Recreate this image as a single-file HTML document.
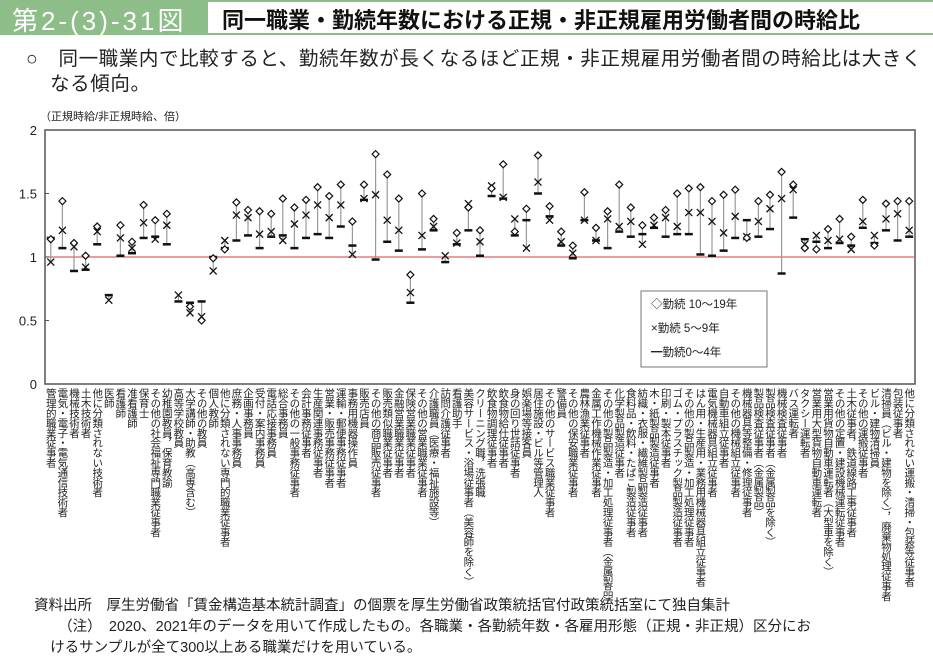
<!DOCTYPE html>
<html><head><meta charset="utf-8">
<style>
body{margin:0;width:933px;height:671px;background:#fff;font-family:"Liberation Sans","Noto Sans CJK JP",sans-serif;overflow:hidden;position:relative}
.abs{position:absolute}
</style></head><body>
<div class="abs" style="left:0;top:0;width:933px;height:35px;background:#8dbd88"></div>
<div class="abs" style="left:12px;top:1px;font-size:26px;color:#fff;letter-spacing:3px">第2-(3)-31図</div>
<div class="abs" style="left:208px;top:2px;width:725px;height:31px;background:#fff"></div>
<div class="abs" style="left:222px;top:3px;font-size:22px;color:#111;font-weight:bold">同一職業・勤続年数における正規・非正規雇用労働者間の時給比</div>
<div class="abs" style="left:26px;top:47px;font-size:19.5px;line-height:25px;color:#222;width:905px;letter-spacing:0.6px">○　同一職業内で比較すると、勤続年数が長くなるほど正規・非正規雇用労働者間の時給比は大きく<br>&nbsp;&nbsp;&nbsp;&nbsp;なる傾向。</div>
<svg class="abs" style="left:0;top:0" width="933" height="671" id="chart"></svg>
<div class="abs" style="left:34px;top:596px;font-size:14.5px;line-height:21px;color:#222;width:880px">資料出所　厚生労働省「賃金構造基本統計調査」の個票を厚生労働省政策統括官付政策統括室にて独自集計<br>&nbsp;&nbsp;&nbsp;&nbsp;&nbsp;&nbsp;（注）　2020、2021年のデータを用いて作成したもの。各職業・各勤続年数・各雇用形態（正規・非正規）区分にお<br>&nbsp;&nbsp;&nbsp;&nbsp;けるサンプルが全て300以上ある職業だけを用いている。</div>
<script>
const categories=["管理的職業従事者","電気・電子・電気通信技術者","機械技術者","土木技術者","他に分類されない技術者","医師","看護師","准看護師","保育士","その他の社会福祉専門職業従事者","幼稚園教員，保育教諭","高等学校教員","大学講師・助教（高専含む）","その他の教員","個人教師","他に分類されない専門的職業従事者","庶務・人事事務員","企画事務員","受付・案内事務員","電話応接事務員","総合事務員","その他の一般事務従事者","会計事務従事者","生産関連事務従事者","営業・販売事務従事者","運輸・郵便事務従事者","事務用機器操作員","販売店員","その他の商品販売従事者","販売類似職業従事者","金融営業職業従事者","保険営業職業従事者","その他の営業職業従事者","介護職員（医療・福祉施設等）","訪問介護従事者","看護助手","美容サービス・浴場従事者（美容師を除く）","クリーニング職，洗張職","飲食物調理従事者","飲食物給仕従事者","身の回り世話従事者","娯楽場等接客員","居住施設・ビル等管理人","その他のサービス職業従事者","警備員","その他の保安職業従事者","農林漁業従事者","金属工作機械作業従事者","その他の製品製造・加工処理従事者（金属製品）","化学製品製造従事者","食料品・飲料・たばこ製造従事者","紡織・衣服・繊維製品製造従事者","木・紙製品製造従事者","印刷・製本従事者","ゴム・プラスチック製品製造従事者","その他の製品製造・加工処理従事者","はん用・生産用・業務用機械器具組立従事者","電気機械器具組立従事者","自動車組立従事者","その他の機械組立従事者","機械器具等整備・修理従事者","製品検査従事者（金属製品）","製品検査従事者（金属製品を除く）","機械検査従事者","バス運転者","タクシー運転者","営業用大型貨物自動車運転者","営業用貨物自動車運転者（大型車を除く）","その他の定置・建設機械運転従事者","土木従事者，鉄道線路工事従事者","その他の運搬従事者","ビル・建物清掃員","清掃員（ビル・建物を除く），廃棄物処理従事者","包装従事者","他に分類されない運搬・清掃・包装等従事者"];
const years10to19=[1.14,1.44,1.11,1.01,1.24,null,1.25,1.12,1.41,1.29,1.34,null,0.61,0.50,0.99,1.06,1.43,1.37,1.36,1.34,1.46,1.39,1.45,1.55,1.48,1.57,1.28,1.57,1.81,1.65,1.46,0.86,1.50,1.30,null,1.19,1.39,1.21,1.54,1.73,1.20,1.38,1.80,1.40,1.20,1.09,1.51,1.23,1.36,1.57,1.39,1.25,1.31,1.37,1.50,1.54,1.55,1.44,1.49,1.53,1.15,1.44,1.49,1.67,1.57,1.07,1.06,1.22,1.30,1.16,1.45,1.09,1.42,1.44,1.44];
const years5to9=[0.96,1.21,1.08,0.92,1.20,0.66,1.15,1.07,1.27,1.14,1.25,0.70,0.56,0.53,0.89,1.13,1.33,1.31,1.18,1.20,1.13,1.26,1.33,1.41,1.31,1.41,1.02,1.46,1.49,1.29,1.21,0.72,1.17,1.24,1.01,1.11,1.42,1.12,1.56,1.47,1.30,1.07,1.59,1.29,1.12,1.03,1.29,1.13,1.30,1.24,1.28,1.10,1.25,1.31,1.24,1.35,1.35,1.28,1.19,1.32,1.16,1.28,1.38,1.46,1.53,1.10,1.17,1.13,1.14,1.06,1.28,1.17,1.30,1.34,1.21];
const years0to4=[1.15,1.07,0.89,0.90,1.10,0.70,1.01,1.03,1.15,1.16,1.10,0.65,0.64,0.65,1.00,1.07,1.13,1.17,1.07,1.16,1.17,1.07,1.15,1.18,1.15,1.24,1.09,1.45,0.98,1.12,1.05,0.64,1.06,1.21,0.96,1.10,1.21,1.01,1.48,1.46,1.17,1.29,1.50,1.32,1.09,0.99,1.29,1.13,1.07,1.20,1.16,1.18,1.23,1.16,1.18,1.18,1.02,1.01,1.05,1.15,1.29,1.16,1.22,0.87,1.31,1.14,1.12,1.07,1.11,1.09,1.23,1.11,1.21,1.13,1.16];
const yTicks=[0,0.5,1,1.5,2];
const yTickLabels=["0","0.5","1","1.5","2"];

const svg=document.getElementById('chart');
const NS='http://www.w3.org/2000/svg';
const L=45,R=915,T=130,B=384;
const xScale=i=>L+(R-L)/categories.length*(i+0.5);
const yScale=v=>B-(v/2)*(B-T);
function mk(tag,attrs,parent){const e=document.createElementNS(NS,tag);for(const k in attrs)e.setAttribute(k,attrs[k]);(parent||svg).appendChild(e);return e;}

const frame=mk('rect',{x:L,y:T,width:R-L,height:B-T,fill:'none',stroke:'#555','stroke-width':1.5});


const ref=mk('line',{x1:L,x2:R,y1:yScale(1),y2:yScale(1),stroke:'#e06060','stroke-width':1.2});


const yl=mk('text',{x:40,y:120,'font-size':11,fill:'#222'});yl.textContent='（正規時給/非正規時給、倍）';


yTicks.forEach((t,i)=>{
  const tk=mk('line',{x1:L,x2:L+4,y1:yScale(t),y2:yScale(t),stroke:'#555'});
  
  
  const tx=mk('text',{x:37,y:yScale(t)+5,'font-size':13,'text-anchor':'end',fill:'#222'});tx.textContent=yTickLabels[i];
  
  
});
categories.forEach((c,i)=>{
  const x=xScale(i);
  const vals=[years10to19[i],years5to9[i],years0to4[i]].filter(v=>v!=null);
  const g=mk('g',{});
  
  
  const mn=Math.min(...vals),mx=Math.max(...vals);
  mk('line',{x1:x,x2:x,y1:yScale(mx),y2:yScale(mn),stroke:'#999','stroke-width':1.2},g);
  if(years0to4[i]!=null){const y=yScale(years0to4[i]);
    const b=mk('line',{x1:x-4,x2:x+4,y1:y,y2:y,stroke:'#111','stroke-width':2.5},g);
    
    }
  if(years5to9[i]!=null){const y=yScale(years5to9[i]);
    const p=mk('path',{d:`M${x-3.5} ${y-3.5}L${x+3.5} ${y+3.5}M${x+3.5} ${y-3.5}L${x-3.5} ${y+3.5}`,stroke:'#111','stroke-width':1.3,fill:'none'},g);
    
    }
  if(years10to19[i]!=null){const y=yScale(years10to19[i]);
    const d=mk('path',{d:`M${x} ${y-3.5}L${x+3.5} ${y}L${x} ${y+3.5}L${x-3.5} ${y}Z`,stroke:'#111','stroke-width':1.2,fill:'#fff'},g);
    
    }
  const t=mk('text',{x:x,y:388,'font-size':10.5,fill:'#222',style:'writing-mode:vertical-rl;letter-spacing:-0.6px'});
  t.textContent=c;
  
  
});
// legend
const lg=mk('g',{});


mk('rect',{x:641,y:291,width:126,height:76,fill:'#fff',stroke:'#777'},lg);
const ly=[304,328,352];
const lt=['◇勤続 10～19年','×勤続 5～9年','━勤続0～4年'];
lt.forEach((s,i)=>{const e=mk('text',{x:651,y:ly[i]+4,'font-size':11.5,fill:'#222'},lg);e.textContent=s;
  
  });
</script>
</body></html>
